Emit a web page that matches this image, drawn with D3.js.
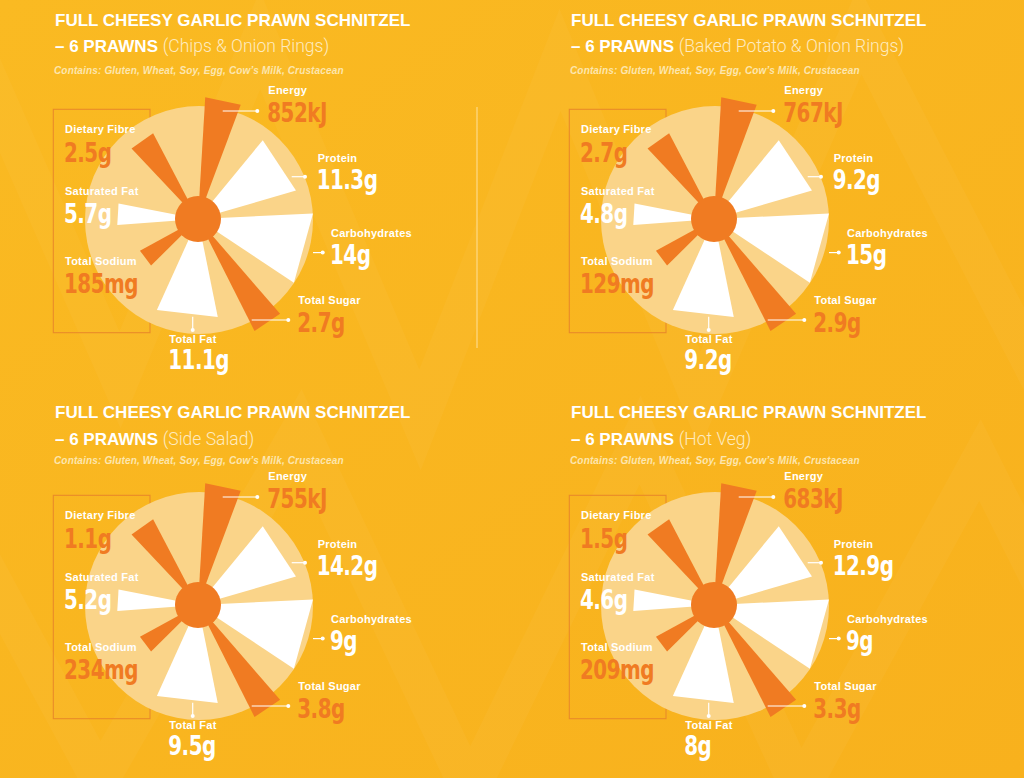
<!DOCTYPE html>
<html>
<head>
<meta charset="utf-8">
<script src="https://cdn.jsdelivr.net/npm/d3@7"></script>
<style>
  html, body { margin: 0; padding: 0; background: #F9B41F; }
  svg { display: block; }
</style>
</head>
<body>
<svg id="chart" width="1024" height="778"></svg>
<script>
// ---------------- DATA ----------------
const dishTitle = "FULL CHEESY GARLIC PRAWN SCHNITZEL";
const dishSubtitle = "– 6 PRAWNS";
const sides = ["Chips & Onion Rings", "Baked Potato & Onion Rings", "Side Salad", "Hot Veg"];
const allergens = "Contains: Gluten, Wheat, Soy, Egg, Cow’s Milk, Crustacean";

const nutrients = ["Energy", "Protein", "Carbohydrates", "Total Sugar", "Total Fat", "Total Sodium", "Saturated Fat", "Dietary Fibre"];
const units     = ["kJ", "g", "g", "g", "g", "mg", "g", "g"];

const energy    = [852, 767, 755, 683];
const protein   = [11.3, 9.2, 14.2, 12.9];
const carbs     = [14, 15, 9, 9];
const sugar     = [2.7, 2.9, 3.8, 3.3];
const totalFat  = [11.1, 9.2, 9.5, 8];
const sodium    = [185, 129, 234, 209];
const satFat    = [5.7, 4.8, 5.2, 4.6];
const fibre     = [2.5, 2.7, 1.1, 1.5];

// relative wedge length (1 = radius of the pale disc)
const wedgeLength = [1.07, 0.895, 1.01, 1.10, 0.877, 0.58, 0.71, 0.85];

// ---------------- LAYOUT / STYLE ----------------
const seriesByNutrient = [energy, protein, carbs, sugar, totalFat, sodium, satFat, fibre];
const ORANGE = "#F07B22", WHITE = "#FFFFFF", PALE = "#FAD489";
const isOrange = [true, false, false, true, false, true, false, true];
// wedge angular extents (degrees clockwise from 12 o'clock)
const wedgeAngles = [[3.4, 20.5], [39.4, 73.8], [87.2, 123.6], [139.1, 153.2], [168.6, 204.3], [225.2, 241.4], [265.7, 281], [316.7, 332.4]];
// label anchor (x, label baseline, value baseline) relative to chart centre
const labelPos = [[70.3, -125, -97.3], [119.7, -57, -29.7], [133, 17.7, 45.3], [100.3, 85, 112.7], [-28.7, 124.3, 149.7], [-133, 45.7, 73.7], [-133, -23.7, 3.7], [-133, -85.7, -57.3]];
// pointer lines relative to centre
const pointers = [[24.7, -108, 59.3, -108], [93.7, -42.3, 107, -42.3], [115, 33.6, 124.7, 33.6], [53.7, 101, 90.3, 101], [-5.3, 97.7, -5.3, 111]];

const colX = [198, 714];
const rowY = [219, 605];
const titleY = [26, 418.3];
const subY = [51.7, 444.6];
const allergenY = [74, 463.8];

const svg = d3.select("#chart");
const W = 1024, H = 778;

// background
const defs = svg.append("defs");
const g0 = defs.append("linearGradient").attr("id", "bg").attr("x1", 0).attr("y1", 0).attr("x2", 1).attr("y2", 1);
g0.append("stop").attr("offset", 0).attr("stop-color", "#FABA22");
g0.append("stop").attr("offset", 1).attr("stop-color", "#F8B11D");
svg.append("rect").attr("width", W).attr("height", H).attr("fill", "url(#bg)");

// faint zig-zag background pattern
const zig = [
  [[-20, 60], [120, 380], [260, 40], [420, 420], [560, 60], [700, 400], [860, 30], [1040, 380]],
  [[-40, 520], [100, 780], [300, 430], [470, 790], [640, 440], [800, 790], [980, 460], [1060, 620]]
];
const zl = d3.line();
svg.append("g").selectAll("path").data(zig).join("path")
  .attr("d", d => zl(d)).attr("fill", "none")
  .attr("stroke", "#FFFFFF").attr("stroke-opacity", 0.03).attr("stroke-width", 38);

// divider
svg.append("line").attr("x1", 477).attr("x2", 477).attr("y1", 107).attr("y2", 348)
  .attr("stroke", "#FCD47A").attr("stroke-width", 1.4);

const rScale = d3.scaleLinear().domain([0, 1]).range([0, 114]);
const toRad = d => d * Math.PI / 180;
const wedge = d3.lineRadial().angle(d => d[0]).radius(d => d[1]).curve(d3.curveLinearClosed);

const LABEL_FONT = "'Liberation Sans', Arial, sans-serif";
const VALUE_FONT = "'DejaVu Sans Condensed', 'DejaVu Sans', sans-serif";
const VALUE_SX = 0.85;

sides.forEach((side, k) => {
  const col = k % 2, row = Math.floor(k / 2);
  const cx = colX[col], cy = rowY[row];
  const left = cx - 143;

  // header
  svg.append("text").attr("x", left).attr("y", titleY[row])
    .attr("font-family", LABEL_FONT).attr("font-weight", 700).attr("font-size", 17)
    .attr("fill", WHITE).text(dishTitle);
  const sub = svg.append("text").attr("x", left).attr("y", subY[row])
    .attr("font-family", LABEL_FONT).attr("font-size", 17).attr("fill", WHITE);
  sub.append("tspan").attr("font-weight", 700).text(dishSubtitle + " ");
  sub.append("tspan").attr("font-family", "Roboto, sans-serif").attr("font-weight", 300)
    .attr("font-size", 17.5).attr("fill", "#FEEBC0").text("(" + side + ")");
  svg.append("text").attr("x", left - 1).attr("y", allergenY[row])
    .attr("font-family", LABEL_FONT).attr("font-weight", 700).attr("font-style", "italic")
    .attr("font-size", 10).attr("letter-spacing", 0.15).attr("fill", "#FDE6AE").text(allergens);

  const g = svg.append("g").attr("transform", `translate(${cx},${cy})`);

  // box round the left column
  g.append("rect").attr("x", -144.7).attr("y", -109.7).attr("width", 96.7).attr("height", 223.4)
    .attr("fill", "none").attr("stroke", "#E98A2A").attr("stroke-width", 1.1);

  // pale disc
  g.append("circle").attr("r", rScale(1)).attr("cx", 1).attr("cy", 1).attr("fill", PALE);

  // wedges
  g.selectAll("path.w").data(nutrients).join("path").attr("class", "w")
    .attr("d", (n, i) => wedge([[0, 0], [toRad(wedgeAngles[i][0]), rScale(wedgeLength[i])], [toRad(wedgeAngles[i][1]), rScale(wedgeLength[i])]]))
    .attr("fill", (n, i) => isOrange[i] ? ORANGE : WHITE);

  // centre hub
  g.append("circle").attr("r", 23).attr("fill", ORANGE);

  // pointers
  g.selectAll("line.p").data(pointers).join("line").attr("class", "p")
    .attr("x1", d => d[0]).attr("y1", d => d[1]).attr("x2", d => d[2]).attr("y2", d => d[3])
    .attr("stroke", WHITE).attr("stroke-width", 1.2);
  g.selectAll("circle.p").data(pointers).join("circle").attr("class", "p")
    .attr("cx", d => d[2]).attr("cy", d => d[3]).attr("r", 2).attr("fill", WHITE);

  // labels
  nutrients.forEach((n, i) => {
    const [lx, ly, vy] = labelPos[i];
    g.append("text").attr("x", lx).attr("y", ly)
      .attr("font-family", LABEL_FONT).attr("font-weight", 700).attr("font-size", 11)
      .attr("letter-spacing", 0.25).attr("fill", WHITE).text(n);
    g.append("text").attr("transform", `translate(${lx - 1},${vy}) scale(${VALUE_SX},1)`)
      .attr("font-family", VALUE_FONT).attr("font-weight", 700).attr("font-size", 26)
      .attr("letter-spacing", -0.6)
      .attr("fill", isOrange[i] ? ORANGE : WHITE)
      .text(seriesByNutrient[i][k] + units[i]);
  });
});
</script>
</body>
</html>
